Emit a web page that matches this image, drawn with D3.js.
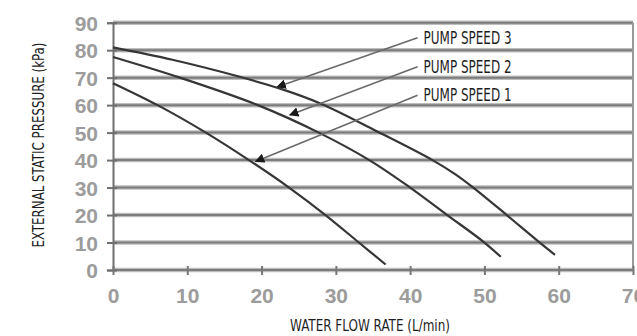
<!DOCTYPE html>
<html>
<head>
<meta charset="utf-8">
<script src="https://cdn.jsdelivr.net/npm/d3@7"></script>
<style>
    body { margin: 0; background: #fff; }
    svg { display: block; }
</style>
</head>
<body>
<div id="chart"></div>
<script>
// values: flow (L/min) vs pressure (kPa)
const speed1Flow = [0, 6, 12.5, 18.3, 23.7, 28.6, 33.1, 36.7];
const speed1Pres = [68, 60, 50, 40, 30, 20, 10, 2];
const speed2Flow = [0, 9, 19.5, 27.7, 34.5, 40, 45, 50, 52.2];
const speed2Pres = [77.5, 70, 60, 50, 40, 30, 20, 10, 4.8];
const speed3Flow = [0, 8, 16.8, 22.5, 28, 35.5, 43, 46, 48.5, 53, 57.2, 59.5];
const speed3Pres = [81, 76.5, 70.5, 66, 60.5, 50.5, 40, 35, 30, 20, 10.5, 5.5];

const seriesNames = ["PUMP SPEED 1", "PUMP SPEED 2", "PUMP SPEED 3"];
// leader lines: label end and arrow tip, in data units
const labelFlow = [41, 41, 41];
const labelPres = [63.6, 74.0, 84.5];
const tipFlow = [19.2, 23.8, 22.1];
const tipPres = [39.5, 56.4, 66.6];

const xTicks = [0, 10, 20, 30, 40, 50, 60, 70];
const yTicks = [0, 10, 20, 30, 40, 50, 60, 70, 80, 90];

const width = 637, height = 336;

const x = d3.scaleLinear().domain([0, 70]).range([113, 633]);
const y = d3.scaleLinear().domain([0, 90]).range([270, 22.7]);

const svg = d3.select("#chart").append("svg")
    .attr("width", width)
    .attr("height", height);

// horizontal grid lines (thick, soft grey)
const grid = svg.append("g");
grid.append("g").selectAll("line")
    .data(yTicks)
    .join("line")
    .attr("x1", x(0)).attr("x2", x(70))
    .attr("y1", d => y(d)).attr("y2", d => y(d))
    .attr("stroke", "#bdbdbd")
    .attr("stroke-width", 4.5);
grid.append("g").selectAll("line")
    .data(yTicks)
    .join("line")
    .attr("x1", x(0)).attr("x2", x(70))
    .attr("y1", d => y(d)).attr("y2", d => y(d))
    .attr("stroke", "#7c7c7c")
    .attr("stroke-width", 2);

// right border
svg.append("line")
    .attr("x1", x(70)).attr("x2", x(70))
    .attr("y1", y(90)).attr("y2", y(0))
    .attr("stroke", "#999")
    .attr("stroke-width", 2);

// axes
const yAxis = d3.axisLeft(y).tickValues(yTicks).tickSize(6).tickPadding(9);
const xAxis = d3.axisBottom(x).tickValues(xTicks).tickSize(0).tickPadding(18);

const gy = svg.append("g").attr("transform", `translate(${x(0)},0)`).call(yAxis);
const gx = svg.append("g").attr("transform", `translate(0,${y(0)})`).call(xAxis);

gy.select(".domain").attr("stroke", "#6f6f6f").attr("stroke-width", 2);
gy.selectAll(".tick line").attr("stroke", "#6f6f6f").attr("stroke-width", 2).attr("x2", 4).attr("x1", -6);
gx.select(".domain").remove();
gx.selectAll(".tick line").attr("stroke", "#777").attr("stroke-width", 2).attr("y1", -4).attr("y2", 5);

[gx, gy].forEach(g => g.selectAll(".tick text")
    .attr("fill", "#9c9c9c")
    .style("font-family", "'Liberation Sans', Arial, sans-serif")
    .style("font-weight", "bold")
    .style("font-size", "21px"));
gy.selectAll(".tick text").attr("dy", "0.36em");

// pump curves
const line = d3.line()
    .x(d => x(d[0]))
    .y(d => y(d[1]))
    .curve(d3.curveCatmullRom.alpha(0.5));

const series = [
    d3.zip(speed1Flow, speed1Pres),
    d3.zip(speed2Flow, speed2Pres),
    d3.zip(speed3Flow, speed3Pres)
];

svg.append("g")
    .selectAll("path")
    .data(series)
    .join("path")
    .attr("d", line)
    .attr("fill", "none")
    .attr("stroke", "#363636")
    .attr("stroke-width", 2.2);

// leader lines with arrow heads
svg.append("defs").append("marker")
    .attr("id", "arrow")
    .attr("viewBox", "0 0 10 10")
    .attr("refX", 9).attr("refY", 5)
    .attr("markerWidth", 6).attr("markerHeight", 6)
    .attr("markerUnits", "strokeWidth")
    .attr("orient", "auto")
    .append("path")
    .attr("d", "M0,0 L10,5 L0,10 z")
    .attr("fill", "#1a1a1a");

const leaders = seriesNames.map((name, i) => ({
    name: name,
    x1: labelFlow[i], y1: labelPres[i],
    x2: tipFlow[i], y2: tipPres[i]
}));

svg.append("g")
    .selectAll("line")
    .data(leaders)
    .join("line")
    .attr("x1", d => x(d.x1)).attr("y1", d => y(d.y1))
    .attr("x2", d => x(d.x2)).attr("y2", d => y(d.y2))
    .attr("stroke", "#6a6a6a")
    .attr("stroke-width", 1.6)
    .attr("marker-end", "url(#arrow)");

svg.append("g")
    .selectAll("text")
    .data(leaders)
    .join("text")
    .attr("x", d => x(d.x1) + 6)
    .attr("y", d => y(d.y1) + 6)
    .attr("textLength", 88)
    .attr("lengthAdjust", "spacingAndGlyphs")
    .attr("fill", "#1e1e1e")
    .style("font-family", "'Liberation Sans Narrow', 'DejaVu Sans Condensed', sans-serif")
    .style("font-size", "17px")
    .text(d => d.name);

// axis titles
svg.append("text")
    .attr("x", 370)
    .attr("y", 331)
    .attr("text-anchor", "middle")
    .attr("textLength", 160)
    .attr("lengthAdjust", "spacingAndGlyphs")
    .attr("fill", "#1e1e1e")
    .style("font-family", "'Liberation Sans Narrow', 'DejaVu Sans Condensed', sans-serif")
    .style("font-size", "16px")
    .text("WATER FLOW RATE (L/min)");

svg.append("text")
    .attr("transform", "translate(44,145) rotate(-90)")
    .attr("text-anchor", "middle")
    .attr("textLength", 205)
    .attr("lengthAdjust", "spacingAndGlyphs")
    .attr("fill", "#1e1e1e")
    .style("font-family", "'Liberation Sans Narrow', 'DejaVu Sans Condensed', sans-serif")
    .style("font-size", "16px")
    .text("EXTERNAL STATIC PRESSURE (kPa)");
</script>
</body>
</html>
